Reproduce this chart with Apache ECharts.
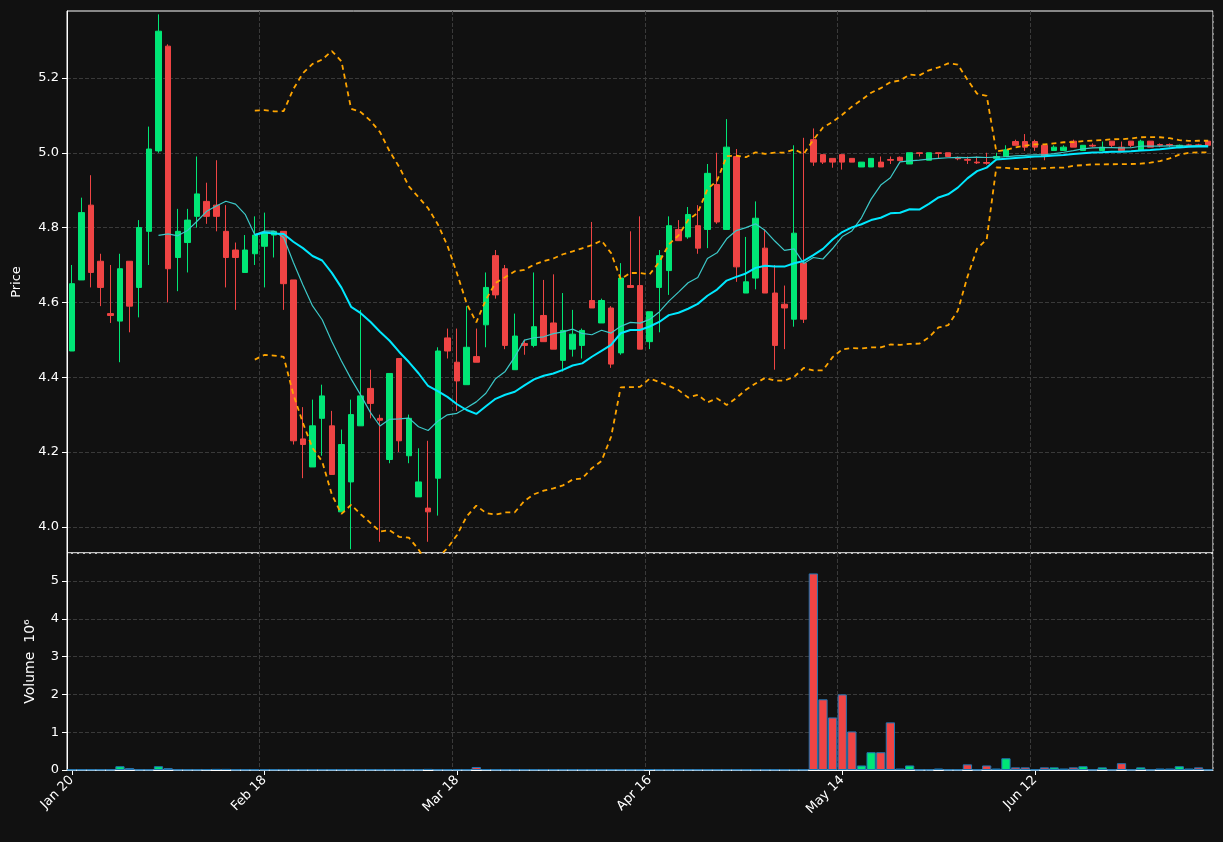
<!DOCTYPE html>
<html><head><meta charset="utf-8">
<script src="https://cdn.jsdelivr.net/npm/echarts@6/dist/echarts.min.js"></script>
<style>html,body{margin:0;padding:0;background:#111111}#c{width:1223px;height:842px}</style>
</head><body><div id="c"></div>
<script>
// OHLC: [open, close, low, high]
const opens  = [4.47,4.66,4.86,4.71,4.57,4.55,4.71,4.64,4.79,5.005,5.285,4.72,4.76,4.83,4.87,4.86,4.79,4.74,4.68,4.73,
4.75,4.78,4.79,4.66,4.235,4.16,4.29,4.27,4.04,4.12,4.27,4.37,4.29,4.18,4.45,4.19,4.08,4.05,4.13,4.505,
4.44,4.38,4.455,4.54,4.725,4.69,4.42,4.49,4.485,4.565,4.545,4.445,4.475,4.485,4.605,4.545,4.585,4.465,4.645,4.645,
4.495,4.64,4.685,4.795,4.775,4.805,4.795,4.915,4.795,4.99,4.625,4.665,4.745,4.625,4.595,4.555,4.705,5.035,4.995,4.985,
4.995,4.985,4.962,4.962,4.975,4.982,4.988,4.97,5.0,4.98,5.0,5.0,4.986,4.982,4.975,4.974,4.985,4.99,5.03,5.03,
5.03,5.02,5.006,5.006,5.031,5.006,5.02,5.006,5.031,5.015,5.031,5.006,5.031,5.022,5.022,5.015,5.021,5.021,5.031];
const closes = [4.65,4.84,4.68,4.64,4.565,4.69,4.59,4.80,5.01,5.325,4.69,4.79,4.82,4.89,4.83,4.83,4.72,4.72,4.74,4.78,
4.785,4.79,4.65,4.23,4.22,4.27,4.35,4.14,4.22,4.30,4.35,4.33,4.285,4.41,4.23,4.29,4.12,4.04,4.47,4.47,
4.39,4.48,4.44,4.64,4.62,4.485,4.51,4.485,4.535,4.495,4.475,4.525,4.515,4.525,4.585,4.605,4.435,4.665,4.64,4.475,
4.575,4.725,4.805,4.765,4.835,4.745,4.945,4.815,5.015,4.695,4.655,4.825,4.625,4.485,4.585,4.785,4.555,4.975,4.975,4.975,
4.975,4.975,4.975,4.985,4.962,4.98,4.979,5.0,4.998,5.0,4.998,4.99,4.984,4.98,4.973,4.972,4.99,5.008,5.02,5.015,
5.015,4.99,5.015,5.015,5.015,5.02,5.018,5.015,5.02,5.006,5.02,5.031,5.015,5.02,5.02,5.02,5.02,5.02,5.02];
const lows   = [4.47,4.66,4.64,4.59,4.545,4.44,4.52,4.56,4.70,5.0,4.60,4.63,4.68,4.80,4.81,4.79,4.64,4.58,4.68,4.70,
4.64,4.72,4.58,4.22,4.13,4.16,4.19,4.14,4.04,3.94,4.27,4.29,3.96,4.17,4.20,4.17,4.08,3.96,4.03,4.45,
4.31,4.38,4.44,4.48,4.61,4.475,4.42,4.46,4.48,4.495,4.475,4.415,4.455,4.45,4.585,4.545,4.425,4.46,4.64,4.475,
4.475,4.52,4.62,4.765,4.77,4.73,4.745,4.81,4.795,4.655,4.625,4.635,4.625,4.42,4.475,4.535,4.545,4.965,4.97,4.96,
4.955,4.975,4.962,4.962,4.962,4.97,4.979,4.97,4.99,4.98,4.985,4.99,4.98,4.97,4.97,4.968,4.98,4.99,5.02,5.005,
5.005,4.98,5.006,5.006,5.015,5.006,5.015,5.006,5.015,5.006,5.015,5.006,5.015,5.015,5.015,5.015,5.018,5.018,5.02];
const highs  = [4.70,4.88,4.94,4.73,4.70,4.73,4.71,4.82,5.07,5.37,5.29,4.85,4.85,4.99,4.92,4.98,4.86,4.76,4.78,4.83,
4.84,4.79,4.79,4.66,4.32,4.34,4.38,4.31,4.26,4.34,4.58,4.42,4.30,4.41,4.45,4.30,4.21,4.23,4.48,4.53,
4.53,4.59,4.53,4.68,4.74,4.70,4.57,4.50,4.68,4.66,4.675,4.625,4.58,4.53,4.815,4.61,4.59,4.705,4.79,4.83,
4.575,4.74,4.83,4.82,4.855,4.86,4.97,5.0,5.09,5.01,4.775,4.87,4.795,4.70,4.645,5.02,5.04,5.065,4.995,4.985,
4.995,4.985,4.975,4.985,4.99,4.99,4.99,5.0,5.0,5.0,5.0,5.0,4.99,4.99,4.99,5.0,5.0,5.02,5.035,5.05,
5.035,5.02,5.02,5.02,5.035,5.02,5.025,5.03,5.031,5.03,5.031,5.035,5.031,5.025,5.025,5.022,5.024,5.024,5.031];
const volumes = [0.01,0.01,0.01,0.01,0.01,0.1,0.05,0.01,0.01,0.1,0.05,0.01,0.01,0.01,0.02,0.03,0.03,0.01,0.01,0.01,
0.01,0.01,0.01,0.01,0.01,0.01,0.01,0.01,0.01,0.01,0.01,0.01,0.01,0.01,0.01,0.01,0.01,0.03,0.01,0.01,
0.01,0.01,0.08,0.02,0.01,0.01,0.01,0.01,0.01,0.01,0.01,0.01,0.01,0.01,0.01,0.01,0.01,0.01,0.01,0.01,
0.02,0.01,0.01,0.01,0.01,0.01,0.01,0.01,0.01,0.01,0.01,0.01,0.01,0.01,0.01,0.01,0.01,5.20,1.87,1.39,
2.0,1.02,0.12,0.47,0.47,1.26,0.04,0.12,0.01,0.01,0.04,0.01,0.01,0.15,0.01,0.12,0.04,0.31,0.07,0.07,
0.01,0.07,0.07,0.04,0.07,0.1,0.01,0.07,0.01,0.18,0.01,0.07,0.01,0.04,0.04,0.1,0.04,0.07,0.01];
const tickLabels = {0:'Jan 20',20:'Feb 18',40:'Mar 18',60:'Apr 16',80:'May 14',100:'Jun 12'};
const priceTicks = [4.0,4.2,4.4,4.6,4.8,5.0,5.2];
const categories = opens.map((_, i) => String(i));

const UP = '#00e676', DOWN = '#ef4444';
function ma(n){ return closes.map((_, i) => { if (i < n-1) return '-'; let s=0; for(let k=i-n+1;k<=i;k++) s+=closes[k]; return +(s/n).toFixed(4); }); }
function boll(sign){ return closes.map((_, i) => { if (i < 19) return '-'; let s=0; for(let k=i-19;k<=i;k++) s+=closes[k]; const m=s/20; let v=0; for(let k=i-19;k<=i;k++) v+=(closes[k]-m)**2; return +(m+sign*2*Math.sqrt(v/19)).toFixed(4); }); }
const ohlc = opens.map((o, i) => [o, closes[i], lows[i], highs[i]]);
const volData = volumes.map((v, i) => ({value: v, itemStyle: {color: closes[i] >= opens[i] ? UP : DOWN}}));

const chart = echarts.init(document.getElementById('c'));
const txt = {color:'#ffffff', fontFamily:'DejaVu Sans', fontSize:13};
const split = {show:true, lineStyle:{color:'#3a3a3a', type:'dashed'}};
const tickFn = (i) => i % 20 === 0;
chart.setOption({
  backgroundColor:'#111111',
  animation:false,
  grid:[
    {left:67, right:10, top:11, height:542, show:true, borderColor:'#ffffff', borderWidth:1},
    {left:67, right:10, top:553, height:217, show:true, borderColor:'#ffffff', borderWidth:1}
  ],
  xAxis:[
    {type:'category', data:categories, gridIndex:0, boundaryGap:true, axisLabel:{show:false}, axisTick:{show:false},
     axisLine:{show:false}, splitLine:Object.assign({interval:(i)=>tickFn(i)}, split)},
    {type:'category', data:categories, gridIndex:1, boundaryGap:true,
     axisLabel:Object.assign({interval:(i)=>tickFn(i), rotate:45, formatter:(v)=>tickLabels[v]||'', margin:8}, txt),
     axisTick:{show:true, interval:(i)=>tickFn(i), alignWithLabel:true, lineStyle:{color:'#ffffff'}},
     axisLine:{show:true, lineStyle:{color:'#ffffff'}}, splitLine:Object.assign({interval:(i)=>tickFn(i)}, split)}
  ],
  yAxis:[
    {type:'value', gridIndex:0, min:3.93, max:5.379, name:'Price', nameLocation:'middle', nameGap:44,
     nameTextStyle:txt, axisLabel:Object.assign({customValues:priceTicks, formatter:(v)=>v.toFixed(1)}, txt),
     axisTick:{show:true, customValues:priceTicks, lineStyle:{color:'#ffffff'}}, axisLine:{show:true, lineStyle:{color:'#ffffff'}}, splitLine:{show:false}},
    {type:'value', gridIndex:1, min:0, max:5.74, interval:1, name:'Volume  10⁶', nameLocation:'middle', nameGap:30,
     nameTextStyle:Object.assign({}, txt, {fontSize:14}), axisLabel:Object.assign({showMaxLabel:false}, txt),
     axisTick:{show:true, lineStyle:{color:'#ffffff'}}, axisLine:{show:true, lineStyle:{color:'#ffffff'}}, splitLine:split}
  ],
  series:[
    {type:'candlestick', data:ohlc, xAxisIndex:0, yAxisIndex:0, barWidth:'62%',
     itemStyle:{color:UP, color0:DOWN, borderColor:UP, borderColor0:DOWN, borderWidth:1},
     markLine:{silent:true, symbol:'none', label:{show:false}, z:0,
       lineStyle:{color:'#3a3a3a', type:'dashed', width:1},
       data:priceTicks.map(v=>({yAxis:v}))}},
    {type:'line', data:ma(10), xAxisIndex:0, yAxisIndex:0, showSymbol:false, lineStyle:{color:'#3cc8c8', width:1.2}, z:3},
    {type:'line', data:ma(20), xAxisIndex:0, yAxisIndex:0, showSymbol:false, lineStyle:{color:'#00e8ff', width:2}, z:4},
    {type:'line', data:boll(1), xAxisIndex:0, yAxisIndex:0, showSymbol:false, lineStyle:{color:'#ffa500', width:1.8, type:[5,4]}, z:3},
    {type:'line', data:boll(-1), xAxisIndex:0, yAxisIndex:0, showSymbol:false, lineStyle:{color:'#ffa500', width:1.8, type:[5,4]}, z:3},
    {type:'bar', data:volData, xAxisIndex:1, yAxisIndex:1, barCategoryGap:'4%', itemStyle:{borderColor:'#1f77b4', borderWidth:1}}
  ]
});
</script></body></html>
